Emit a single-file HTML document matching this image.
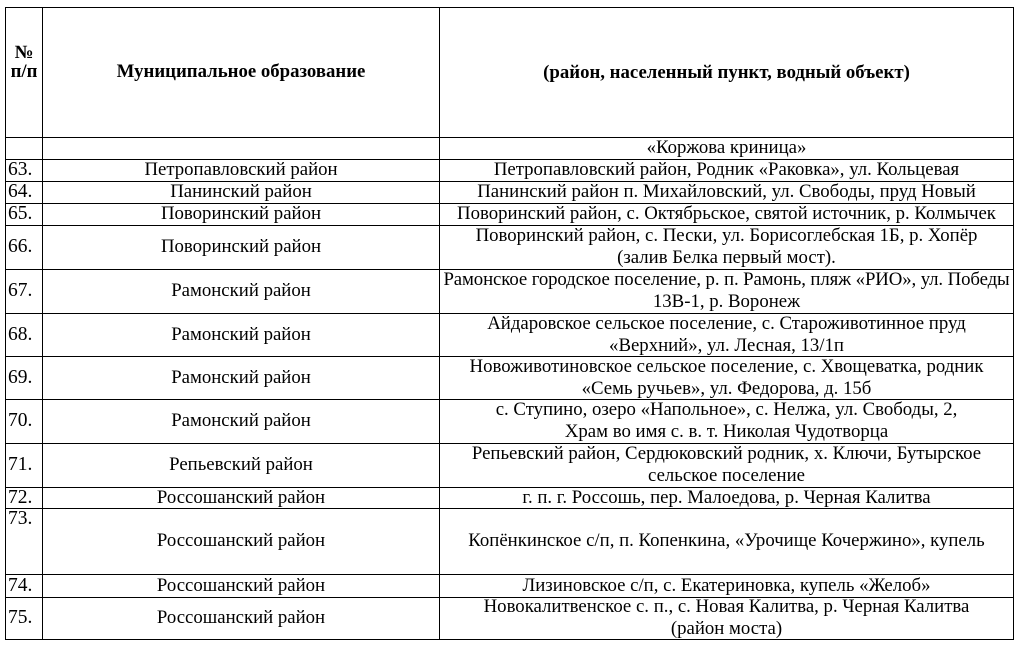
<!DOCTYPE html>
<html><head><meta charset="utf-8">
<style>
html,body{margin:0;padding:0;}
body{width:1022px;height:647px;background:#fff;position:relative;overflow:hidden;font-family:"Liberation Serif","Times New Roman",serif;font-size:18.8px;color:#000;}
.h{position:absolute;left:5px;width:1009px;height:1px;background:#000;}
.v{position:absolute;top:7px;height:633px;width:1px;background:#000;}
.c{position:absolute;display:flex;align-items:center;justify-content:center;text-align:center;line-height:22px;white-space:nowrap;}
.n{position:absolute;left:8px;display:flex;align-items:center;line-height:22px;white-space:nowrap;font-size:19.5px;}
.c2{left:43px;width:396px;}
.c3{left:440px;width:573px;}
b{font-weight:bold;}
</style></head><body>
<!-- horizontal lines -->
<div class="h" style="top:7px"></div>
<div class="h" style="top:137px"></div>
<div class="h" style="top:159px"></div>
<div class="h" style="top:181px"></div>
<div class="h" style="top:203px"></div>
<div class="h" style="top:225px"></div>
<div class="h" style="top:269px"></div>
<div class="h" style="top:313px"></div>
<div class="h" style="top:356px"></div>
<div class="h" style="top:399px"></div>
<div class="h" style="top:443px"></div>
<div class="h" style="top:487px"></div>
<div class="h" style="top:508px"></div>
<div class="h" style="top:574px"></div>
<div class="h" style="top:597px"></div>
<div class="h" style="top:639px"></div>
<!-- vertical lines -->
<div class="v" style="left:5px"></div>
<div class="v" style="left:42px"></div>
<div class="v" style="left:439px"></div>
<div class="v" style="left:1013px"></div>

<!-- header -->
<div class="c" style="left:6px;width:36px;top:42px;height:22px;"><b>№</b></div>
<div class="c" style="left:6px;width:36px;top:61px;height:22px;"><b>п/п</b></div>
<div class="c c2" style="top:61px;height:22px;"><b>Муниципальное образование</b></div>
<div class="c c3" style="top:62px;height:22px;"><b>(район, населенный пункт, водный объект)</b></div>

<!-- empty row -->
<div class="c c3" style="top:137px;height:22px;">«Коржова криница»</div>

<!-- 63 -->
<div class="n" style="top:159px;height:22px;">63.</div>
<div class="c c2" style="top:159px;height:22px;">Петропавловский район</div>
<div class="c c3" style="top:159px;height:22px;">Петропавловский район, Родник «Раковка», ул. Кольцевая</div>
<!-- 64 -->
<div class="n" style="top:181px;height:22px;">64.</div>
<div class="c c2" style="top:181px;height:22px;">Панинский район</div>
<div class="c c3" style="top:181px;height:22px;">Панинский район п. Михайловский, ул. Свободы, пруд Новый</div>
<!-- 65 -->
<div class="n" style="top:203px;height:22px;">65.</div>
<div class="c c2" style="top:203px;height:22px;">Поворинский район</div>
<div class="c c3" style="top:203px;height:22px;">Поворинский район, с. Октябрьское, святой источник, р. Колмычек</div>
<!-- 66 -->
<div class="n" style="top:225px;height:44px;">66.</div>
<div class="c c2" style="top:225px;height:44px;">Поворинский район</div>
<div class="c c3" style="top:225px;height:44px;">Поворинский район, с. Пески, ул. Борисоглебская 1Б, р. Хопёр<br>(залив Белка первый мост).</div>
<!-- 67 -->
<div class="n" style="top:269px;height:44px;">67.</div>
<div class="c c2" style="top:269px;height:44px;">Рамонский район</div>
<div class="c c3" style="top:269px;height:44px;"><span><span style="letter-spacing:-0.1px">Рамонское городское поселение, р. п. Рамонь, пляж «РИО», ул. Победы</span><br>13В-1, р. Воронеж</span></div>
<!-- 68 -->
<div class="n" style="top:313px;height:43px;">68.</div>
<div class="c c2" style="top:313px;height:43px;">Рамонский район</div>
<div class="c c3" style="top:313px;height:43px;">Айдаровское сельское поселение, с. Староживотинное пруд<br>«Верхний», ул. Лесная, 13/1п</div>
<!-- 69 -->
<div class="n" style="top:356px;height:43px;">69.</div>
<div class="c c2" style="top:356px;height:43px;">Рамонский район</div>
<div class="c c3" style="top:356px;height:43px;">Новоживотиновское сельское поселение, с. Хвощеватка, родник<br>«Семь ручьев», ул. Федорова, д. 15б</div>
<!-- 70 -->
<div class="n" style="top:399px;height:44px;">70.</div>
<div class="c c2" style="top:399px;height:44px;">Рамонский район</div>
<div class="c c3" style="top:399px;height:44px;">с. Ступино, озеро «Напольное», с. Нелжа, ул. Свободы, 2,<br>Храм во имя с. в. т. Николая Чудотворца</div>
<!-- 71 -->
<div class="n" style="top:443px;height:44px;">71.</div>
<div class="c c2" style="top:443px;height:44px;">Репьевский район</div>
<div class="c c3" style="top:443px;height:44px;">Репьевский район, Сердюковский родник, х. Ключи, Бутырское<br>сельское поселение</div>
<!-- 72 -->
<div class="n" style="top:487px;height:21px;">72.</div>
<div class="c c2" style="top:487px;height:21px;">Россошанский район</div>
<div class="c c3" style="top:487px;height:21px;">г. п. г. Россошь, пер. Малоедова, р. Черная Калитва</div>
<!-- 73 -->
<div class="n" style="top:508px;height:22px;">73.</div>
<div class="c c2" style="top:508px;height:66px;">Россошанский район</div>
<div class="c c3" style="top:508px;height:66px;">Копёнкинское с/п, п. Копенкина, «Урочище Кочержино», купель</div>
<!-- 74 -->
<div class="n" style="top:574px;height:23px;">74.</div>
<div class="c c2" style="top:574px;height:23px;">Россошанский район</div>
<div class="c c3" style="top:574px;height:23px;">Лизиновское с/п, с. Екатериновка, купель «Желоб»</div>
<!-- 75 -->
<div class="n" style="top:597px;height:42px;">75.</div>
<div class="c c2" style="top:597px;height:42px;">Россошанский район</div>
<div class="c c3" style="top:597px;height:42px;">Новокалитвенское с. п., с. Новая Калитва, р. Черная Калитва<br>(район моста)</div>
</body></html>
